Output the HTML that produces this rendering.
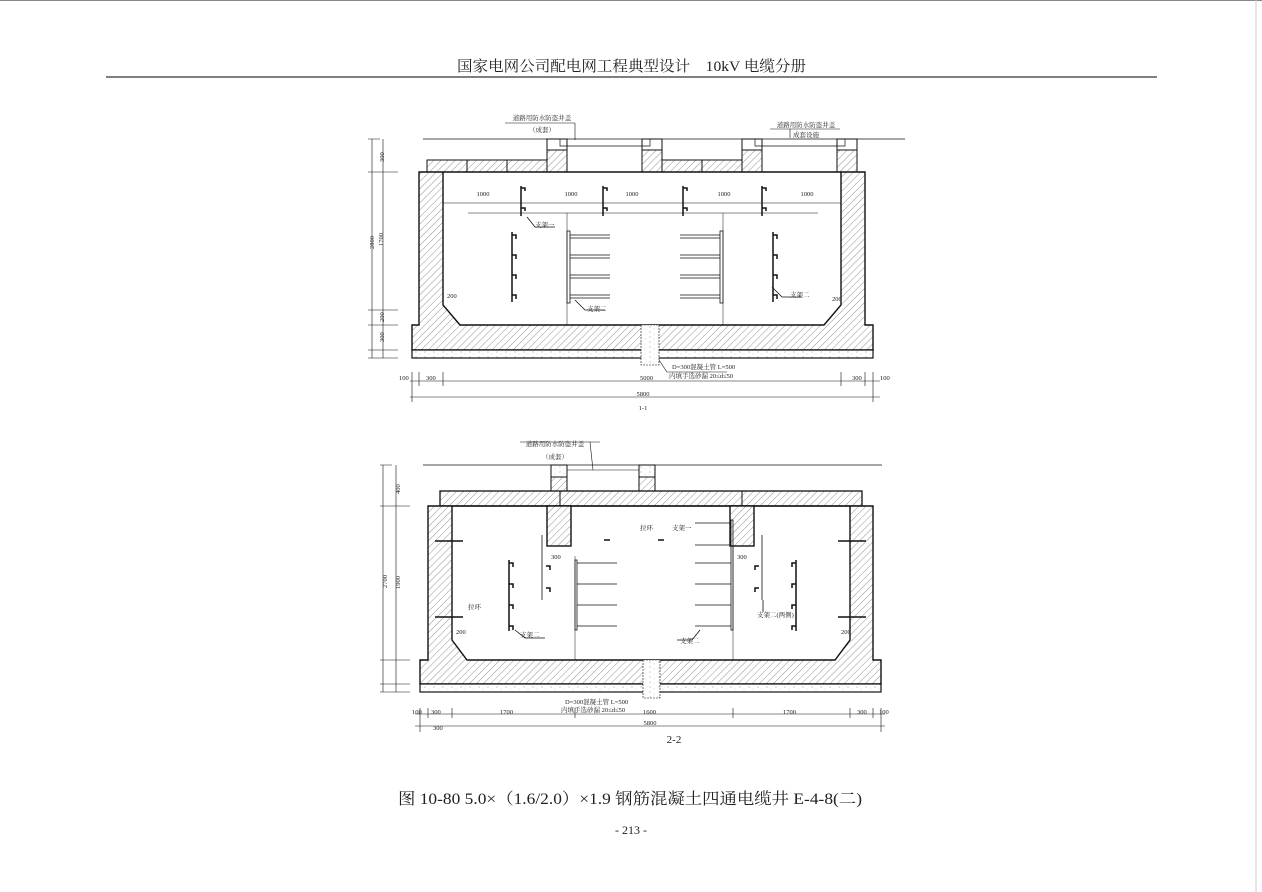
<!DOCTYPE html>
<html><head><meta charset="utf-8"><style>
html,body{margin:0;padding:0;background:#fff;}
svg{display:block;}
text{font-family:"Liberation Serif","Noto Serif CJK SC",serif;fill:#222;}
</style></head><body>
<svg width="1262" height="892" viewBox="0 0 1262 892" xmlns="http://www.w3.org/2000/svg">
<defs>
<pattern id="h" width="5" height="5" patternUnits="userSpaceOnUse" patternTransform="rotate(45)">
<rect width="5" height="5" fill="#fff"/><line x1="0" y1="0" x2="0" y2="5" stroke="#666" stroke-width="0.7"/>
</pattern>
<pattern id="d" width="9" height="5" patternUnits="userSpaceOnUse">
<rect width="9" height="5" fill="#fff"/><circle cx="2" cy="2" r="0.5" fill="#777"/><circle cx="6" cy="4" r="0.4" fill="#999"/>
</pattern>
</defs>
<line x1="0" y1="0.5" x2="1262" y2="0.5" stroke="#888"/>
<line x1="1256" y1="0" x2="1256" y2="892" stroke="#ccc"/>
<text x="457" y="71" font-size="15" textLength="349" lengthAdjust="spacingAndGlyphs">国家电网公司配电网工程典型设计　10kV 电缆分册</text>
<line x1="106" y1="77" x2="1157" y2="77" stroke="#333" stroke-width="1.2"/>

<g stroke="#111" stroke-width="1" fill="none">
<!-- ===== 1-1 ===== -->
<line x1="423" y1="139" x2="905" y2="139" stroke-width="0.8"/>
<rect x="427" y="160" width="120" height="12" fill="url(#h)"/>
<rect x="662" y="160" width="80" height="12" fill="url(#h)"/>
<line x1="467" y1="160" x2="467" y2="172"/><line x1="507" y1="160" x2="507" y2="172"/><line x1="702" y1="160" x2="702" y2="172"/>
<rect x="547" y="150" width="20" height="22" fill="url(#h)"/><rect x="547" y="139" width="20" height="11"/>
<rect x="642" y="150" width="20" height="22" fill="url(#h)"/><rect x="642" y="139" width="20" height="11"/>
<rect x="742" y="150" width="20" height="22" fill="url(#h)"/><rect x="742" y="139" width="20" height="11"/>
<rect x="837" y="150" width="20" height="22" fill="url(#h)"/><rect x="837" y="139" width="20" height="11"/>
<polyline points="560,139 560,146 650,146 650,139" stroke-width="0.7"/>
<polyline points="755,139 755,146 845,146 845,139" stroke-width="0.7"/>
<path d="M419,172 H865 V325 H873 V350 H412 V325 H419 Z M443,172 V305 L460,325 H824 L841,305 V172 Z" fill="url(#h)" fill-rule="evenodd" stroke-width="1.4"/>
<rect x="412" y="350" width="461" height="8" fill="url(#d)" stroke-width="1.2"/>
<rect x="641" y="325" width="18" height="40" fill="url(#d)" stroke-width="0.6" stroke-dasharray="2,1"/>
<line x1="443" y1="203" x2="841" y2="203" stroke-width="0.6"/>
<line x1="468" y1="213" x2="818" y2="213" stroke-width="0.6"/>
<line x1="567" y1="213" x2="567" y2="325" stroke-width="0.5"/>
<line x1="723" y1="213" x2="723" y2="325" stroke-width="0.5"/>
<g stroke-width="1.5">
<path d="M521,186 V216 M521,188 h4 v3 M521,208 h4 v3"/>
<path d="M603,186 V216 M603,188 h4 v3 M603,208 h4 v3"/>
<path d="M683,186 V216 M683,188 h4 v3 M683,208 h4 v3"/>
<path d="M762,186 V216 M762,188 h4 v3 M762,208 h4 v3"/>
<path d="M512,232 V302 M512,235 h4 v4 M512,255 h4 v4 M512,275 h4 v4 M512,295 h4 v4"/>
<path d="M773,232 V302 M773,235 h4 v4 M773,255 h4 v4 M773,275 h4 v4 M773,295 h4 v4"/>
</g>
<g stroke-width="0.8">
<rect x="567" y="231" width="3" height="72"/>
<path d="M570,235 h40 M570,238 h40 M570,255 h40 M570,258 h40 M570,275 h40 M570,278 h40 M570,295 h40 M570,298 h40"/>
<rect x="720" y="231" width="3" height="72"/>
<path d="M680,235 h40 M680,238 h40 M680,255 h40 M680,258 h40 M680,275 h40 M680,278 h40 M680,295 h40 M680,298 h40"/>
<path d="M527,217 l8,10 h20 M575,300 l10,10 h20 M772,287 l10,10 h20"/>
</g>
<g stroke-width="0.6">
<line x1="372" y1="139" x2="372" y2="358"/><line x1="383" y1="139" x2="383" y2="358"/>
<path d="M368,139 h12 M368,172 h30 M368,310 h30 M368,325 h30 M368,350 h30 M368,358 h30"/>
<line x1="410" y1="381" x2="880" y2="381"/><line x1="410" y1="397" x2="880" y2="397"/>
<path d="M412,372 v30 M419,372 v14 M443,372 v14 M841,372 v14 M865,372 v14 M873,372 v30"/>
<path d="M659,360 l8,12 h60"/>
</g>
<!-- ===== 2-2 ===== -->
<line x1="423" y1="465" x2="882" y2="465" stroke-width="0.8"/>
<rect x="551" y="465" width="16" height="12" fill="url(#d)"/><rect x="551" y="477" width="16" height="14" fill="url(#h)"/>
<rect x="639" y="465" width="16" height="12" fill="url(#d)"/><rect x="639" y="477" width="16" height="14" fill="url(#h)"/>
<line x1="567" y1="470" x2="639" y2="470" stroke-width="0.5"/>
<rect x="440" y="491" width="422" height="15" fill="url(#h)" stroke-width="1.3"/>
<line x1="560" y1="491" x2="560" y2="506"/><line x1="742" y1="491" x2="742" y2="506"/>
<path d="M428,506 H873 V660 H881 V684 H420 V660 H428 Z M452,506 V640 L467,660 H835 L850,640 V506 Z" fill="url(#h)" fill-rule="evenodd" stroke-width="1.4"/>
<rect x="420" y="684" width="461" height="8" fill="url(#d)" stroke-width="1.2"/>
<rect x="643" y="660" width="17" height="38" fill="url(#d)" stroke-width="0.6" stroke-dasharray="2,1"/>
<rect x="547" y="506" width="24" height="40" fill="url(#h)" stroke-width="1.4"/>
<rect x="730" y="506" width="24" height="40" fill="url(#h)" stroke-width="1.4"/>
<line x1="575" y1="556" x2="575" y2="660" stroke-width="0.5"/>
<line x1="733" y1="546" x2="733" y2="660" stroke-width="0.5"/>
<g stroke-width="1.5">
<path d="M509,560 V631 M509,563 h4 v4 M509,584 h4 v4 M509,605 h4 v4 M509,626 h4 v4"/>
<path d="M796,560 V631 M796,563 h-4 v4 M796,584 h-4 v4 M796,605 h-4 v4 M796,626 h-4 v4"/>
<path d="M546,566 h4 v4 M546,588 h4 v4"/>
<path d="M759,566 h-4 v4 M759,588 h-4 v4"/>
<path d="M435,541 h28 M435,617 h28 M838,541 h28 M838,617 h28"/>
<path d="M604,540 h6 M658,540 h6"/>
</g>
<g stroke-width="0.8">
<path d="M542,535 V600 M762,535 V600"/>
<rect x="575" y="560" width="2" height="70"/>
<path d="M577,563 h40 M577,584 h40 M577,605 h40 M577,626 h40"/>
<rect x="731" y="520" width="2" height="110"/>
<path d="M695,523 h36 M695,545 h36 M695,563 h36 M695,584 h36 M695,605 h36 M695,626 h36"/>
<path d="M515,630 l10,8 h20 M700,630 l-8,10 h-15 M763,600 l0,12"/>
</g>
<g stroke-width="0.6">
<line x1="383" y1="465" x2="383" y2="692"/><line x1="396" y1="465" x2="396" y2="692"/>
<path d="M380,465 h12 M380,506 h30 M380,660 h30 M380,684 h30 M380,692 h30"/>
<line x1="415" y1="714" x2="885" y2="714"/><line x1="415" y1="726" x2="885" y2="726"/>
<path d="M420,708 v24 M428,708 v10 M452,708 v10 M575,708 v10 M733,708 v10 M850,708 v10 M873,708 v10 M881,708 v24"/>
<path d="M600,442 h-80 M590,442 l3,28"/>
<path d="M575,140 v-17 M575,123 h-70 M840,129 h-70 M790,129 v9"/>
</g>
</g>

<g font-size="6.5">
<text x="542" y="120" text-anchor="middle">道路用防水防盗井盖</text>
<text x="542" y="132" text-anchor="middle">（成套）</text>
<text x="806" y="127" text-anchor="middle">道路用防水防盗井盖</text>
<text x="806" y="137" text-anchor="middle">成套设施</text>
<text x="483" y="196" text-anchor="middle">1000</text><text x="571" y="196" text-anchor="middle">1000</text><text x="632" y="196" text-anchor="middle">1000</text><text x="724" y="196" text-anchor="middle">1000</text><text x="807" y="196" text-anchor="middle">1000</text>
<text x="535" y="227">支架一</text><text x="587" y="311">支架二</text><text x="790" y="297">支架二</text>
<text x="447" y="298">200</text><text x="832" y="301">200</text>
<text x="365" y="250" transform="rotate(-90 369 245)">2800</text>
<text x="376" y="245" transform="rotate(-90 380 242)">1700</text>
<text x="376" y="162" transform="rotate(-90 380 158)">300</text>
<text x="376" y="322" transform="rotate(-90 380 318)">200</text>
<text x="376" y="342" transform="rotate(-90 380 338)">300</text>
<text x="399" y="380">100</text><text x="426" y="380">300</text><text x="640" y="380">5000</text><text x="852" y="380">300</text><text x="880" y="380">100</text>
<text x="643" y="396" text-anchor="middle">5800</text>
<text x="643" y="410" text-anchor="middle">1-1</text>
<text x="672" y="369">D=300混凝土管 L=500</text>
<text x="669" y="378">内填手选砂漏 20≤d≤50</text>
<text x="555" y="446" text-anchor="middle">道路用防水防盗井盖</text>
<text x="555" y="459" text-anchor="middle">（成套）</text>
<text x="640" y="530">拉环</text><text x="672" y="530">支架一</text>
<text x="551" y="559">300</text><text x="737" y="559">300</text>
<text x="468" y="609">拉环</text><text x="520" y="637">支架二</text><text x="680" y="643">支架二</text><text x="757" y="617">支架二(两侧)</text>
<text x="456" y="634">200</text><text x="841" y="634">200</text>
<text x="565" y="704">D=300混凝土管 L=500</text>
<text x="561" y="712">内填手选砂漏 20≤d≤50</text>
<text x="412" y="714">100</text><text x="431" y="714">300</text><text x="500" y="714">1700</text><text x="643" y="714">1600</text><text x="783" y="714">1700</text><text x="857" y="714">300</text><text x="879" y="714">100</text>
<text x="433" y="730">300</text><text x="650" y="725" text-anchor="middle">5800</text>
<text x="379" y="590" transform="rotate(-90 382 585)">2700</text>
<text x="391" y="590" transform="rotate(-90 395 585)">1900</text>
<text x="391" y="495" transform="rotate(-90 395 490)">400</text>
</g>
<text x="674" y="743" font-size="11" text-anchor="middle">2-2</text>
<text x="398" y="804" font-size="16" textLength="464" lengthAdjust="spacingAndGlyphs">图 10-80 5.0×（1.6/2.0）×1.9 钢筋混凝土四通电缆井 E-4-8(二)</text>
<text x="631" y="834" font-size="12" text-anchor="middle">- 213 -</text>
</svg>
</body></html>
